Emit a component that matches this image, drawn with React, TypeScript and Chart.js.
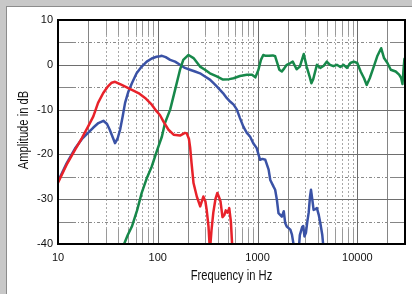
import { useEffect, useRef } from "react";
import { Chart, registerables } from "chart.js";

Chart.register(...registerables);

// Red series (frequency in Hz, amplitude in dB)
const redFreq = [10, 12.2, 14.8, 17.3, 20, 22.6, 25.2, 28.4, 31.7, 34.5, 37.3, 43.5, 55, 64, 74.6, 87, 97.5, 105, 114, 128, 144, 167, 187, 195, 205, 211, 218, 228, 246, 266, 286, 300, 309, 322, 333, 345, 360, 378, 395, 410, 425, 445, 465, 480, 500, 520, 540, 560];
const redDb = [-26.3, -22.3, -19, -16.4, -13.8, -11.5, -8.5, -6.3, -4.8, -4.0, -3.8, -4.5, -5.6, -6.3, -7.4, -8.9, -10.4, -11.2, -12.7, -14.5, -15.6, -15.8, -15.2, -15.3, -16.5, -18.5, -22, -26.4, -29.4, -31.6, -29.4, -30.5, -32.4, -36, -41.5, -37, -33, -30, -28.6, -29.5, -30.5, -34, -33.5, -32.5, -33, -32, -35, -41.5];

// Blue series
const blueFreq = [10, 12.2, 14.8, 17.3, 20, 22.6, 25.4, 28.5, 31, 33, 35.5, 37.3, 39.5, 41.9, 44.5, 47, 50.7, 55, 61.3, 69, 77.5, 87, 97, 105, 110, 120, 133, 149, 167, 187, 210, 236, 265, 297, 333, 362, 390, 420, 450, 490, 530, 575, 620, 666, 720, 780, 840, 905, 980, 1020, 1060, 1120, 1195, 1290, 1340, 1445, 1500, 1560, 1620, 1750, 1830, 1890, 1960, 2130, 2210, 2290, 2340, 2580, 2650, 2800, 2870, 2950, 3050, 3150, 3250, 3350, 3430, 3530, 3640, 3800, 3930, 4100, 4250, 4450, 4600];
const blueDb = [-26, -22, -18.7, -16.6, -15.2, -14, -13, -12.5, -13.2, -14.5, -16.3, -17.5, -16.5, -14.5, -11.5, -8.5, -6, -4.1, -1.9, -0.4, 0.7, 1.4, 1.8, 1.9, 2.0, 1.7, 1.1, 0.7, 0, -0.7, -1.1, -1.5, -1.9, -2.6, -3.3, -4.1, -4.8, -5.6, -6.3, -7.4, -8.2, -8.9, -10, -11.9, -13.8, -15.2, -16, -17.5, -18.6, -20, -21.2, -21, -21.2, -23.4, -25.7, -27.2, -27.9, -30.1, -33.1, -33.9, -32.7, -35.3, -36.1, -36.8, -37.9, -40, -41.5, -41.5, -38, -36.2, -36, -38.3, -37.5, -35, -33, -29.5, -27.9, -30, -32.4, -32.2, -32, -33.5, -35.3, -38, -41.5];

// Green series
const greenFreq = [45, 50, 55, 62, 69, 77, 87, 97, 110, 118, 133, 149, 167, 180, 203, 228, 265, 297, 333, 390, 450, 520, 575, 666, 780, 880, 950, 1020, 1080, 1140, 1200, 1300, 1420, 1500, 1570, 1650, 1750, 1850, 1960, 2130, 2250, 2460, 2650, 2900, 3100, 3340, 3460, 3600, 3930, 4250, 4600, 4930, 5320, 5750, 6230, 6750, 7280, 7860, 8510, 9200, 9970, 10780, 11660, 12400, 13300, 14600, 15800, 17300, 18500, 20000, 21600, 24200, 26200, 27500, 28300, 29000, 29600, 30000];
const greenDb = [-40.5, -38, -36.1, -32.5, -28.6, -25.5, -22.7, -19.5, -16, -13, -10, -5.6, -1.1, 1.1, 2.2, 1.5, -0.4, -1.1, -1.9, -2.6, -3.3, -3.2, -3, -2.5, -2.2, -2.2, -2.8, -1.1, 1.1, 2.2, 2.0, 2.0, 2.1, 1.9, 0.5, -1.1, -1.5, -0.8, 0, 0.4, 0.7, -1, -0.4, 2.4, -0.4, -2.8, -4.1, -3.3, 0, -0.7, -0.2, 0.7, 0, -0.3, 0, -0.5, 0, -0.7, 0.4, 0.7, 0.4, -1.5, -3, -4.5, -3, -0.4, 1.9, 3.7, 1.5, 0.4, -1.1, -1.5, -2.2, -3, -4.3, -1, 1.3, 1.5];

const xTickValues = [10, 100, 1000, 10000];
const yTickValues = [-40, -30, -20, -10, 0, 10];
const xMin = 10;
const xMax = 30000;
const yMin = -40;
const yMax = 10;
const xTitle = "Frequency in Hz";
const yTitle = "Amplitude in dB";

const FONT = "'Liberation Sans', Arial, sans-serif";

const gridPlugin = {
  id: "customGrid",
  beforeDatasetsDraw(chart: any) {
    const { ctx, chartArea } = chart;
    const { left, right, top, bottom } = chartArea;
    const xs = chart.scales.x;
    const ys = chart.scales.y;
    ctx.save();
    const tick = 15;
    // vertical lines
    for (let d = 10; d < xMax; d *= 10) {
      for (let m = 1; m <= 9; m++) {
        const f = d * m;
        if (f <= xMin || f >= xMax) continue;
        const px = Math.round(xs.getPixelForValue(f)) + 0.5;
        if (m === 1 || m === 2) {
          ctx.setLineDash([]);
          ctx.strokeStyle = m === 1 ? "#6e6e6e" : "#858585";
          ctx.lineWidth = 1;
          ctx.beginPath();
          ctx.moveTo(px, top);
          ctx.lineTo(px, bottom);
          ctx.stroke();
        } else {
          ctx.setLineDash([]);
          ctx.strokeStyle = "#9a9a9a";
          ctx.lineWidth = 1;
          ctx.beginPath();
          ctx.moveTo(px, top);
          ctx.lineTo(px, top + tick);
          ctx.moveTo(px, bottom - tick);
          ctx.lineTo(px, bottom);
          ctx.stroke();
          ctx.setLineDash([2, 2]);
          ctx.strokeStyle = "#a8a8a8";
          ctx.beginPath();
          ctx.moveTo(px, top + tick);
          ctx.lineTo(px, bottom - tick);
          ctx.stroke();
        }
      }
    }
    // horizontal lines
    for (let v = yMin + 5; v < yMax; v += 5) {
      const py = Math.round(ys.getPixelForValue(v)) + 0.5;
      if (v % 10 === 0) {
        ctx.setLineDash([]);
        ctx.strokeStyle = "#6e6e6e";
        ctx.lineWidth = 1;
        ctx.beginPath();
        ctx.moveTo(left, py);
        ctx.lineTo(right, py);
        ctx.stroke();
      } else {
        ctx.setLineDash([]);
        ctx.strokeStyle = "#858585";
        ctx.lineWidth = 1;
        ctx.beginPath();
        ctx.moveTo(left, py);
        ctx.lineTo(left + tick, py);
        ctx.moveTo(right - tick, py);
        ctx.lineTo(right, py);
        ctx.stroke();
        ctx.setLineDash([3, 2, 1, 2]);
        ctx.strokeStyle = "#8a8a8a";
        ctx.beginPath();
        ctx.moveTo(left + tick, py);
        ctx.lineTo(right - tick, py);
        ctx.stroke();
      }
    }
    ctx.restore();
  },
  afterDatasetsDraw(chart: any) {
    const { ctx, chartArea } = chart;
    const { left, right, top, bottom } = chartArea;
    ctx.save();
    ctx.setLineDash([]);
    ctx.strokeStyle = "#000000";
    ctx.lineWidth = 2;
    ctx.strokeRect(left, top, right - left, bottom - top);
    ctx.restore();
  },
  afterDraw(chart: any) {
    const { ctx, chartArea } = chart;
    const { left, right, top, bottom } = chartArea;
    ctx.save();
    ctx.fillStyle = "#111111";
    ctx.font = `14px ${FONT}`;
    ctx.textAlign = "center";
    ctx.textBaseline = "middle";
    const sx = 0.8;
    // x title, horizontally condensed
    ctx.save();
    ctx.translate((left + right) / 2, 276);
    ctx.scale(sx, 1);
    ctx.fillText(xTitle, 0, 0);
    ctx.restore();
    // y title, rotated and condensed
    ctx.save();
    ctx.translate(24, (top + bottom) / 2 - 2);
    ctx.rotate(-Math.PI / 2);
    ctx.scale(sx, 1);
    ctx.fillText(yTitle, 0, 0);
    ctx.restore();
    ctx.restore();
  },
};

function toPoints(f: number[], d: number[]) {
  return f.map((v, i) => ({ x: v, y: d[i] }));
}

export default function App() {
  const ref = useRef<HTMLCanvasElement>(null);
  useEffect(() => {
    if (!ref.current) return;
    const lineStyle = {
      borderWidth: 2.5,
      pointRadius: 0,
      tension: 0,
      fill: false,
      borderJoinStyle: "round" as const,
      borderCapStyle: "round" as const,
      clip: 0,
    };
    const chart = new Chart(ref.current, {
      type: "line",
      data: {
        datasets: [
          { label: "Red", data: toPoints(redFreq, redDb), borderColor: "#e8222a", ...lineStyle },
          { label: "Green", data: toPoints(greenFreq, greenDb), borderColor: "#17884a", ...lineStyle },
          { label: "Blue", data: toPoints(blueFreq, blueDb), borderColor: "#3a52a6", ...lineStyle },
        ],
      },
      options: {
        animation: false,
        responsive: false,
        layout: { padding: { left: 0, top: 20, right: 7, bottom: 0 } },
        plugins: {
          legend: { display: false },
          tooltip: { enabled: false },
        },
        scales: {
          x: {
            type: "logarithmic",
            min: xMin,
            max: xMax,
            grid: { display: false, drawTicks: false },
            border: { display: false },
            afterBuildTicks: (s: any) => {
              s.ticks = xTickValues.map((v) => ({ value: v }));
            },
            afterFit: (s: any) => {
              s.height = 50;
            },
            ticks: {
              autoSkip: false,
              maxRotation: 0,
              padding: 7,
              color: "#111111",
              font: { family: FONT, size: 11 },
              callback: (v: any) => String(v),
            },
            title: { display: false },
          },
          y: {
            type: "linear",
            min: yMin,
            max: yMax,
            grid: { display: false, drawTicks: false },
            border: { display: false },
            afterBuildTicks: (s: any) => {
              s.ticks = yTickValues.map((v) => ({ value: v }));
            },
            afterFit: (s: any) => {
              s.width = 58;
            },
            ticks: {
              padding: 5,
              color: "#111111",
              font: { family: FONT, size: 11 },
              callback: (v: any) => String(v),
            },
            title: { display: false },
          },
        },
      },
      plugins: [gridPlugin],
    });
    return () => chart.destroy();
  }, []);

  return (
    <div style={{ position: "fixed", left: 0, top: 0, width: 412, height: 294, background: "#c8c8c8", overflow: "hidden" }}>
      <div
        style={{
          position: "absolute",
          left: 6,
          top: 6,
          width: 406,
          height: 288,
          background: "#ffffff",
          borderLeft: "1px solid #8c8c8c",
          borderTop: "1px solid #8c8c8c",
        }}
      />
      <canvas ref={ref} width={412} height={294} style={{ position: "absolute", left: 0, top: 0, width: 412, height: 294 }} />
    </div>
  );
}
